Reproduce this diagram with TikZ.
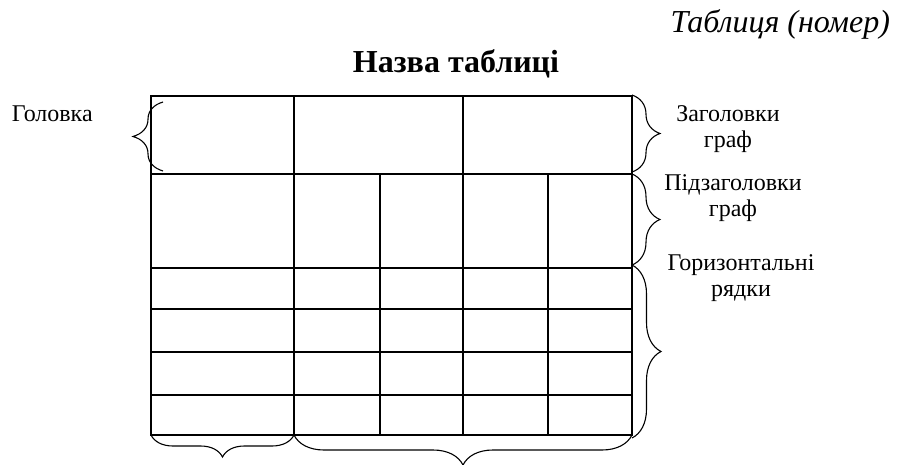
\documentclass[tikz,border=0pt]{standalone}
\usepackage{fontspec}
\setmainfont{Liberation Serif}
\usetikzlibrary{decorations.pathreplacing}
\begin{document}
\begin{tikzpicture}[x=1pt,y=-1pt,line width=1.3pt,
  brc/.style={decorate,decoration={brace,amplitude=#1},line width=1.1pt},
  lbl/.style={font=\fontsize{24}{26}\selectfont,align=center}]
\useasboundingbox (0,0) rectangle (900,465);
% titles
\node[anchor=base east,font=\fontsize{32}{36}\selectfont\itshape] (num) at (894,33) {Таблиця (номер)};
\node[anchor=base,font=\fontsize{32}{36}\selectfont\bfseries] (title) at (456,73) {Назва таблиці};
% table
\draw (151,96) rectangle (632,435);
\draw (151,174) -- (632,174);
\foreach \y in {268,309,352,395} \draw (151,\y) -- (632,\y);
\draw (294,96) -- (294,435) (463,96) -- (463,435);
\foreach \x in {380,548} \draw (\x,174) -- (\x,435);
% braces
\draw[brc=30pt] (163,171) -- (163,102);
\draw[brc=28pt] (632,95) -- (632,172);
\draw[brc=28pt] (632,174) -- (632,265);
\draw[brc=29pt] (632,265) -- (632,438);
\draw[brc=22pt] (294,435) -- (151,435);
\draw[brc=30pt] (632,435) -- (294,435);
% labels
\node[lbl,anchor=base west] (head) at (8,122) {Головка};
\node[lbl,anchor=base] (cols) at (728,148) {Заголовки\\граф};
\node[lbl,anchor=base] (subcols) at (733,217) {Підзаголовки\\граф};
\node[lbl,anchor=base] (rows) at (741,297) {Горизонтальні\\рядки};
\end{tikzpicture}
\end{document}
